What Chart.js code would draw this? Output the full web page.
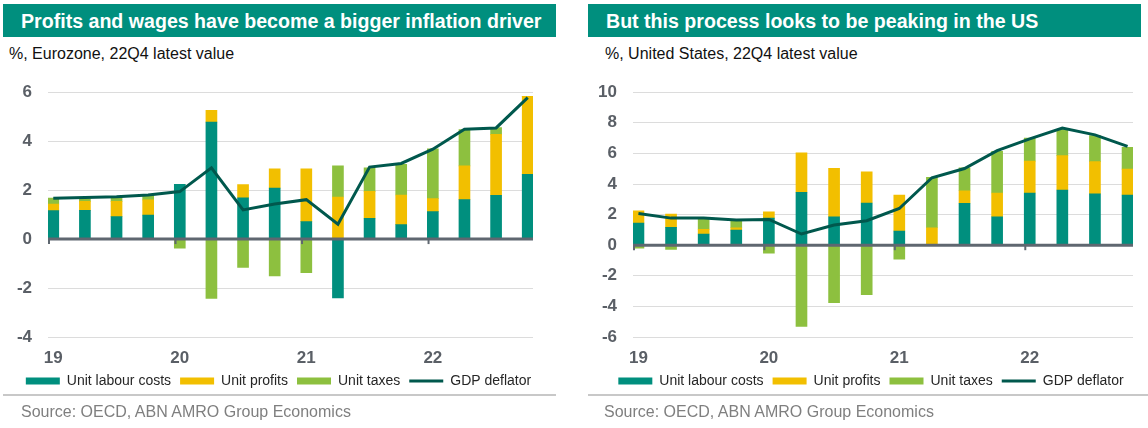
<!DOCTYPE html>
<html>
<head>
<meta charset="utf-8">
<script src="https://cdn.jsdelivr.net/npm/chart.js@4.4.1/dist/chart.umd.min.js"></script>
<style>
    body { margin: 0; width: 1148px; height: 428px; background: #fff; font-family: "Liberation Sans", Arial, sans-serif; position: relative; overflow: hidden; }
    .band { position: absolute; top: 4px; height: 33px; width: 553px; background: #008F7E; color: #fff; font-weight: bold; font-size: 19.6px; line-height: 34px; box-sizing: border-box; white-space: nowrap; }
    .sub { position: absolute; top: 45px; font-size: 16px; color: #111; }
    .rule { position: absolute; top: 394px; height: 2px; background: #c8c8c8; }
    .source { position: absolute; top: 403px; font-size: 16px; color: #7f7f7f; }
    .wrap { position: absolute; top: 66px; width: 574px; height: 332px; }
</style>
</head>
<body>
<div class="band" style="left:3px; padding-left:18px;">Profits and wages have become a bigger inflation driver</div>
<div class="sub" style="left:9px;">%, Eurozone, 22Q4 latest value</div>
<div class="wrap" style="left:0;"><canvas id="ezChart"></canvas></div>
<div class="rule" style="left:3px; width:553px;"></div>
<div class="source" style="left:21px;">Source: OECD, ABN AMRO Group Economics</div>

<div class="band" style="left:588px; padding-left:18px;">But this process looks to be peaking in the US</div>
<div class="sub" style="left:605px;">%, United States, 22Q4 latest value</div>
<div class="wrap" style="left:574px;"><canvas id="usChart"></canvas></div>
<div class="rule" style="left:588px; width:560px;"></div>
<div class="source" style="left:604px;">Source: OECD, ABN AMRO Group Economics</div>

<script>
// Quarters 19Q1 .. 22Q4, year labels on Q1
const quarters = ["19Q1", "19Q2", "19Q3", "19Q4", "20Q1", "20Q2", "20Q3", "20Q4",
                  "21Q1", "21Q2", "21Q3", "21Q4", "22Q1", "22Q2", "22Q3", "22Q4"];
const yearLabels = ["19", "20", "21", "22"];

// Eurozone
const ezLabour   = [1.16, 1.17, 0.92, 0.98, 2.24, 4.78, 1.68, 2.08, 0.71, -2.40, 0.85, 0.59, 1.12, 1.61, 1.79, 2.64];
const ezProfits  = [0.27, 0.37, 0.62, 0.62, 0.00, 0.48, 0.55, 0.79, 2.16, 1.72, 1.10, 1.21, 0.53, 1.38, 2.49, 3.19];
const ezTaxes    = [0.24, 0.10, 0.18, 0.20, -0.37, -2.42, -1.16, -1.50, -1.37, 1.27, 0.96, 1.25, 2.04, 1.48, 0.27, 0.00];
const ezDeflator = [1.67, 1.70, 1.73, 1.80, 1.94, 2.91, 1.19, 1.43, 1.61, 0.61, 2.94, 3.09, 3.67, 4.49, 4.54, 5.78];

// United States
const usLabour   = [1.45, 1.17, 0.73, 0.99, 1.77, 3.46, 1.86, 2.76, 0.93, 0.00, 2.74, 1.86, 3.41, 3.61, 3.35, 3.28];
const usProfits  = [0.80, 0.86, 0.31, 0.15, 0.41, 2.57, 3.17, 2.03, 2.35, 1.14, 0.82, 1.55, 2.08, 2.24, 2.11, 1.69];
const usTaxes    = [-0.20, -0.28, 0.73, 0.46, -0.52, -5.31, -3.76, -3.24, -0.91, 3.29, 1.49, 2.72, 1.51, 1.73, 1.71, 1.42];
const usDeflator = [2.07, 1.77, 1.77, 1.64, 1.68, 0.73, 1.32, 1.60, 2.40, 4.41, 5.01, 6.18, 6.95, 7.65, 7.21, 6.46];

const TEAL = "#008F7E";
const YELLOW = "#F2BF00";
const GREEN = "#8DC03F";
const DARK = "#00584D";

// half a bar width beyond first/last quarter so bars sit inside the plot
const EDGE = 0.167;

function points(values) {
    return values.map((v, i) => ({ x: i, y: v }));
}

// zero axis line and year tick marks drawn over the bars (like the original)
const axisOverlay = {
    id: 'axisOverlay',
    beforeDraw(chart) {
        // centre the legend a little left of the plot centre, as in the original
        const lg = chart.legend;
        const mid = (chart.chartArea.left + chart.chartArea.right) / 2 - 12;
        const half = (lg.right - lg.left) / 2;
        lg.left = mid - half;
        lg.right = mid + half;
    },
    afterDatasetsDraw(chart) {
        const ctx = chart.ctx;
        const x = chart.scales.x;
        const y0 = chart.scales.y.getPixelForValue(0);
        ctx.save();
        ctx.strokeStyle = '#5f6770';
        ctx.lineWidth = 3;
        ctx.beginPath();
        ctx.moveTo(chart.chartArea.left, y0);
        ctx.lineTo(chart.chartArea.right, y0);
        ctx.stroke();
        ctx.lineWidth = 2;
        x.ticks.forEach(t => {
            const px = x.getPixelForValue(t.value - EDGE);
            ctx.beginPath();
            ctx.moveTo(px + 1, y0);
            ctx.lineTo(px + 1, y0 + 5);
            ctx.stroke();
        });
        ctx.restore();
    }
};

function initChart(id, labour, profits, taxes, deflator, yMin, yMax, axisWidth, padTop, padRight) {
    const ctx = document.getElementById(id);
    return new Chart(ctx, {
        type: 'bar',
        data: {
            datasets: [{
                label: "Unit labour costs",
                data: points(labour),
                backgroundColor: TEAL,
                borderWidth: 0,
                barThickness: 11,
                order: 1
            }, {
                label: "Unit profits",
                data: points(profits),
                backgroundColor: YELLOW,
                borderWidth: 0,
                barThickness: 11,
                order: 1
            }, {
                label: "Unit taxes",
                data: points(taxes),
                backgroundColor: GREEN,
                borderWidth: 0,
                barThickness: 11,
                order: 1
            }, {
                type: 'line',
                label: "GDP deflator",
                data: points(deflator),
                borderColor: DARK,
                backgroundColor: DARK,
                borderWidth: 3,
                pointRadius: 0,
                tension: 0,
                stack: 'deflator',
                order: 0
            }]
        },
        options: {
            responsive: true,
            maintainAspectRatio: false,
            animation: false,
            layout: {
                padding: { top: padTop, right: padRight, bottom: 0, left: 0 }
            },
            plugins: {
                tooltip: { enabled: false },
                legend: {
                    position: 'bottom',
                    labels: {
                        usePointStyle: true,
                        pointStyleWidth: 34,
                        boxHeight: 7,
                        padding: 9,
                        color: '#262626',
                        font: { family: 'Liberation Sans', size: 14 },
                        sort: (a, b) => a.datasetIndex - b.datasetIndex,
                        generateLabels: function(chart) {
                            const items = Chart.defaults.plugins.legend.labels.generateLabels(chart);
                            items.forEach(item => {
                                item.pointStyle = chart.data.datasets[item.datasetIndex].type === 'line' ? 'line' : 'rect';
                            });
                            return items;
                        }
                    }
                }
            },
            scales: {
                x: {
                    type: 'linear',
                    stacked: true,
                    offset: false,
                    min: -EDGE,
                    max: quarters.length - 1 + EDGE,
                    afterBuildTicks: function(scale) {
                        scale.ticks = yearLabels.map((_, i) => ({ value: i * 4 }));
                    },
                    afterFit: function(scale) {
                        scale.height = 28;
                    },
                    grid: { display: false, drawTicks: false },
                    border: { display: false },
                    ticks: {
                        autoSkip: false,
                        maxRotation: 0,
                        padding: 11,
                        color: '#5a5f66',
                        font: { family: 'Liberation Sans', size: 17, weight: 'bold' },
                        callback: function(value, index) {
                            return yearLabels[index];
                        }
                    }
                },
                y: {
                    stacked: true,
                    min: yMin,
                    max: yMax,
                    afterFit: function(scale) {
                        scale.width = axisWidth;
                    },
                    border: { display: false },
                    grid: {
                        drawTicks: false,
                        color: '#dcdcdc',
                        lineWidth: 1
                    },
                    ticks: {
                        stepSize: 2,
                        padding: 16,
                        color: '#5a5f66',
                        font: { family: 'Liberation Sans', size: 17, weight: 'bold' }
                    }
                }
            }
        },
        plugins: [axisOverlay]
    });
}

initChart('ezChart', ezLabour, ezProfits, ezTaxes, ezDeflator, -4, 6, 48, 26, 41);
initChart('usChart', usLabour, usProfits, usTaxes, usDeflator, -6, 10, 59, 24, 15);
</script>
</body>
</html>
